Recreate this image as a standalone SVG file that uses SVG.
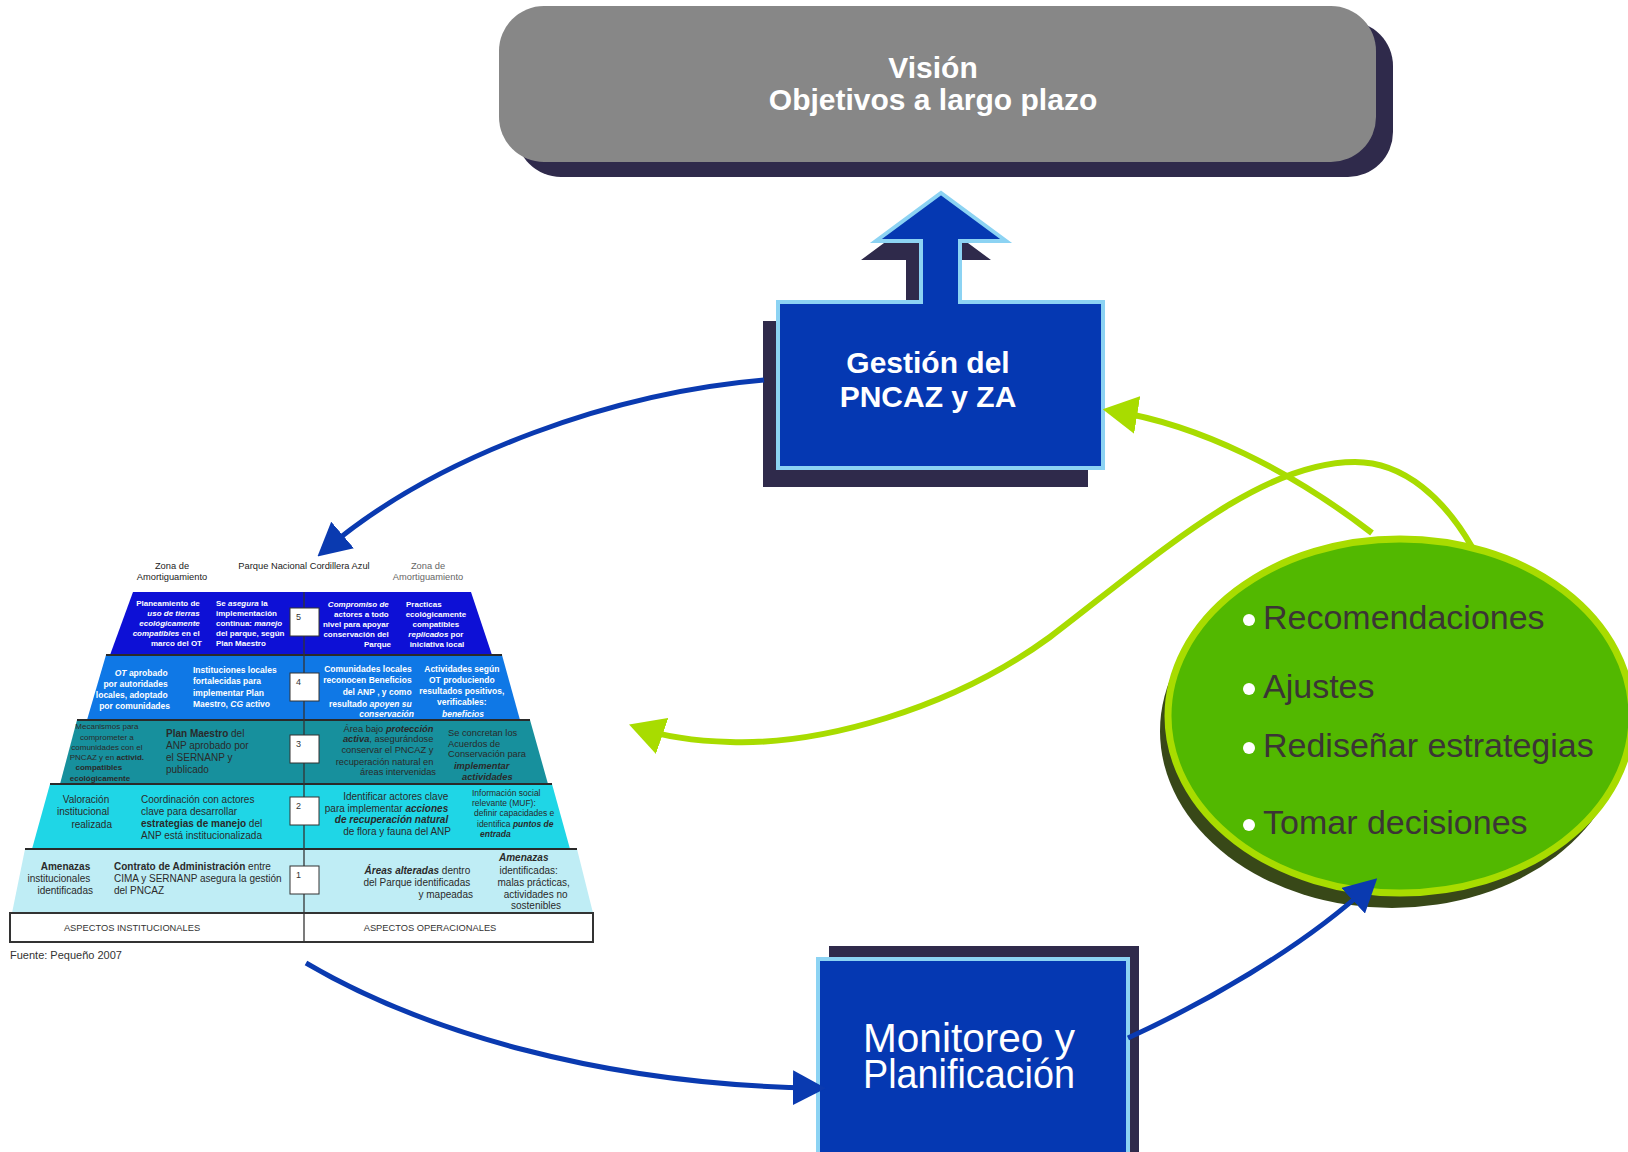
<svg xmlns="http://www.w3.org/2000/svg" width="1628" height="1152" viewBox="0 0 1628 1152">
<style>
.sf{font-family:'Liberation Sans',Arial,sans-serif}
.big{font-family:'Liberation Sans',Arial,sans-serif;font-weight:bold;font-size:30px;fill:#fff;text-anchor:middle}
.mon{font-family:'Liberation Sans',Arial,sans-serif;font-size:41px;fill:#fff;text-anchor:middle}
.ell{font-family:'Liberation Sans',Arial,sans-serif;font-size:34px;fill:#3b3535}
.hd{font-family:'Liberation Sans',Arial,sans-serif;font-size:9.3px;fill:#222;text-anchor:middle}
.w8{font-family:'Liberation Sans',Arial,sans-serif;font-weight:bold;font-size:8px;fill:#fff}
.w85{font-family:'Liberation Sans',Arial,sans-serif;font-weight:bold;font-size:8.5px;fill:#fff}
.d8{font-family:'Liberation Sans',Arial,sans-serif;font-size:8px;fill:#2a2a2a}
.d85{font-family:'Liberation Sans',Arial,sans-serif;font-size:8.5px;fill:#2a2a2a}
.d9{font-family:'Liberation Sans',Arial,sans-serif;font-size:9.3px;fill:#2a2a2a}
.d10{font-family:'Liberation Sans',Arial,sans-serif;font-size:10px;fill:#2a2a2a}
.bi{font-weight:bold;font-style:italic}
.b{font-weight:bold}
.i{font-style:italic}
.num{font-family:'Liberation Sans',Arial,sans-serif;font-size:9px;fill:#333}
.box{fill:#fff;stroke:#333;stroke-width:1}
.bl{fill:none;stroke:#0a3ab0;stroke-width:5}
.gr{fill:none;stroke:#a8dc00;stroke-width:6}
.sep{stroke:#2a2a2a;stroke-width:2}
</style>
<defs>
<marker id="ab" viewBox="0 0 10 10" refX="7" refY="5" markerWidth="33" markerHeight="35" markerUnits="userSpaceOnUse" orient="auto" preserveAspectRatio="none">
<path d="M0,0 L10,5 L0,10 Z" fill="#0a3ab0"/>
</marker>
<marker id="ag" viewBox="0 0 10 10" refX="7" refY="5" markerWidth="35" markerHeight="38" markerUnits="userSpaceOnUse" orient="auto" preserveAspectRatio="none">
<path d="M0,0 L10,5 L0,10 Z" fill="#a8dc00"/>
</marker>
</defs>
<rect width="1628" height="1152" fill="#fff"/>

<g id="vision">
<rect x="516" y="21" width="877" height="156" rx="45" fill="#2f2a4b"/>
<rect x="499" y="6" width="877" height="156" rx="45" fill="#878787"/>
<text class="big" x="933" y="78">Visión</text>
<text class="big" x="933" y="110">Objetivos a largo plazo</text>
</g>

<g id="gestion">
<path transform="translate(-15,19)" d="M778,302 H921 V241 H876 L941,193 L1006,241 H960 V302 H1103 V468 H778 Z" fill="#2f2a4b"/>
<path d="M778,302 H921 V241 H876 L941,193 L1006,241 H960 V302 H1103 V468 H778 Z" fill="#0538b2" stroke="#8cd3f3" stroke-width="4"/>
<text class="big" x="928" y="373">Gestión del</text>
<text class="big" x="928" y="407">PNCAZ y ZA</text>
</g>

<g id="monitoreo">
<rect x="829" y="946" width="310" height="220" fill="#2f2a4b"/>
<rect x="818" y="959" width="310" height="210" fill="#0538b2" stroke="#8cd3f3" stroke-width="4"/>
<text class="mon" x="969" y="1052" textLength="212" lengthAdjust="spacingAndGlyphs">Monitoreo y</text>
<text class="mon" x="969" y="1088" textLength="212" lengthAdjust="spacingAndGlyphs">Planificación</text>
</g>

<g id="acciones">
<ellipse cx="1392" cy="731" rx="232" ry="177" fill="#384818"/>
<ellipse cx="1400" cy="716" rx="232" ry="177" fill="#52b800" stroke="#a8dc00" stroke-width="7"/>
<circle cx="1249" cy="620" r="6" fill="#fff"/>
<circle cx="1249" cy="689" r="6" fill="#fff"/>
<circle cx="1249" cy="748" r="6" fill="#fff"/>
<circle cx="1249" cy="825" r="6" fill="#fff"/>
<text class="ell" x="1263" y="629">Recomendaciones</text>
<text class="ell" x="1263" y="698">Ajustes</text>
<text class="ell" x="1263" y="757">Rediseñar estrategias</text>
<text class="ell" x="1263" y="834">Tomar decisiones</text>
</g>

<g id="connectors">
<path class="bl" d="M764,380 C620,392 440,452 325,550" marker-end="url(#ab)"/>
<path class="bl" d="M306,963 C420,1030 600,1085 816,1088" marker-end="url(#ab)"/>
<path class="bl" d="M1128,1038 C1200,1005 1300,950 1370,885" marker-end="url(#ab)"/>
<path class="gr" d="M1372,533 C1290,470 1200,425 1113,411" marker-end="url(#ag)"/>
<path class="gr" d="M1472,547 C1445,500 1405,462 1355,462 C1260,462 1160,553 1050,637 C950,710 820,745 730,742 C695,741 665,737 639,728" marker-end="url(#ag)"/>
</g>

<g id="piramide">
<text class="hd" x="172" y="569">Zona de</text>
<text class="hd" x="172" y="580">Amortiguamiento</text>
<text class="hd" x="304" y="569">Parque Nacional Cordillera Azul</text>
<text class="hd" x="428" y="569" style="fill:#666">Zona de</text>
<text class="hd" x="428" y="580" style="fill:#666">Amortiguamiento</text>

<polygon points="133,592 471,592 492,655 110,655" fill="#0d10d6"/>
<polygon points="106,655 502,655 520,720 87,720" fill="#0f78e6"/>
<polygon points="77,720 530,720 548,784 60,784" fill="#17909d"/>
<polygon points="50,784 552,784 570,849 32,849" fill="#1fd6e6"/>
<polygon points="25,849 577,849 593,913 12,913" fill="#bfedf5"/>
<line class="sep" x1="106" y1="655" x2="502" y2="655"/>
<line class="sep" x1="77" y1="720" x2="530" y2="720"/>
<line class="sep" x1="50" y1="784" x2="552" y2="784"/>
<line class="sep" x1="25" y1="849" x2="577" y2="849"/>
<rect x="10" y="913" width="583" height="29" fill="#fff" stroke="#333" stroke-width="2"/>
<line x1="304" y1="592" x2="304" y2="942" stroke="#333" stroke-width="1.3"/>

<rect class="box" x="290" y="608" width="29" height="28"/><text class="num" x="296" y="620">5</text>
<rect class="box" x="290" y="673" width="29" height="28"/><text class="num" x="296" y="685">4</text>
<rect class="box" x="290" y="735" width="29" height="28"/><text class="num" x="296" y="747">3</text>
<rect class="box" x="290" y="797" width="29" height="28"/><text class="num" x="296" y="809">2</text>
<rect class="box" x="290" y="866" width="29" height="28"/><text class="num" x="296" y="878">1</text>

<text class="w8" text-anchor="end">
<tspan x="202" y="606">Planeamiento de</tspan>
<tspan x="202" y="616" class="i">uso de tierras</tspan>
<tspan x="202" y="626" class="i">ecológicamente</tspan>
<tspan x="202" y="636"><tspan class="i">compatibles</tspan> en el</tspan>
<tspan x="202" y="646">marco del OT</tspan>
</text>
<text class="w8">
<tspan x="216" y="606">Se <tspan class="i">asegura</tspan> la</tspan>
<tspan x="216" y="616">implementación</tspan>
<tspan x="216" y="626">continua: <tspan class="i">manejo</tspan></tspan>
<tspan x="216" y="636">del parque, según</tspan>
<tspan x="216" y="646">Plan Maestro</tspan>
</text>
<text class="w8" text-anchor="end">
<tspan x="391" y="607" class="i">Compromiso de</tspan>
<tspan x="391" y="617">actores a todo</tspan>
<tspan x="391" y="627">nivel para apoyar</tspan>
<tspan x="391" y="637">conservación del</tspan>
<tspan x="391" y="647">Parque</tspan>
</text>
<text class="w8" x="406" y="607">Practicas</text>
<text class="w8" text-anchor="middle">
<tspan x="437" y="617">ecológicamente</tspan>
<tspan x="437" y="627">compatibles</tspan>
<tspan x="437" y="637"><tspan class="i">replicados</tspan> por</tspan>
<tspan x="437" y="647">iniciativa local</tspan>
</text>

<text class="w85" text-anchor="end">
<tspan x="170" y="676"><tspan class="i">OT</tspan> aprobado</tspan>
<tspan x="170" y="687">por  autoridades</tspan>
<tspan x="170" y="698">locales, adoptado</tspan>
<tspan x="170" y="709">por comunidades</tspan>
</text>
<text class="w85">
<tspan x="193" y="673">Instituciones locales</tspan>
<tspan x="193" y="684">fortalecidas para</tspan>
<tspan x="193" y="696">implementar Plan</tspan>
<tspan x="193" y="707">Maestro, <tspan class="i">CG</tspan> activo</tspan>
</text>
<text class="w85" text-anchor="end">
<tspan x="414" y="672">Comunidades locales</tspan>
<tspan x="414" y="683">reconocen Beneficios</tspan>
<tspan x="414" y="695">del ANP , y como</tspan>
<tspan x="414" y="707">resultado <tspan class="i">apoyen su</tspan></tspan>
<tspan x="414" y="717" class="i">conservación</tspan>
</text>
<text class="w85" text-anchor="middle">
<tspan x="463" y="672">Actividades según</tspan>
<tspan x="463" y="683">OT produciendo</tspan>
<tspan x="463" y="694">resultados positivos,</tspan>
<tspan x="463" y="705">verificables:</tspan>
<tspan x="463" y="717" class="i">beneficios</tspan>
</text>

<text class="d8" text-anchor="middle">
<tspan x="108" y="729">Mecanismos para</tspan>
<tspan x="108" y="740">comprometer a</tspan>
<tspan x="108" y="750">comunidades con el</tspan>
<tspan x="108" y="760">PNCAZ y en <tspan class="b">activid.</tspan></tspan>
<tspan x="100" y="770" class="b">compatibles</tspan>
<tspan x="100" y="781" class="b">ecológicamente</tspan>
</text>
<text class="d10">
<tspan x="166" y="737"><tspan class="b">Plan Maestro</tspan> del</tspan>
<tspan x="166" y="749">ANP aprobado por</tspan>
<tspan x="166" y="761">el SERNANP y</tspan>
<tspan x="166" y="773">publicado</tspan>
</text>
<text class="d9" text-anchor="end">
<tspan x="436" y="732">Área bajo <tspan class="bi">protección</tspan></tspan>
<tspan x="436" y="742"><tspan class="bi">activa</tspan>, asegurándose</tspan>
<tspan x="436" y="753">conservar el PNCAZ y</tspan>
<tspan x="436" y="765">recuperación natural en</tspan>
<tspan x="436" y="775">áreas intervenidas</tspan>
</text>
<text class="d9">
<tspan x="448" y="736">Se concretan los</tspan>
<tspan x="448" y="747">Acuerdos de</tspan>
<tspan x="448" y="757">Conservación para</tspan>
<tspan x="454" y="769" class="bi">implementar</tspan>
<tspan x="462" y="780" class="bi">actividades</tspan>
</text>

<text class="d10" text-anchor="end">
<tspan x="112" y="803">Valoración</tspan>
<tspan x="112" y="815">institucional</tspan>
<tspan x="112" y="828">realizada</tspan>
</text>
<text class="d10">
<tspan x="141" y="803">Coordinación con actores</tspan>
<tspan x="141" y="815">clave para desarrollar</tspan>
<tspan x="141" y="827"><tspan class="b">estrategias de manejo</tspan> del</tspan>
<tspan x="141" y="839">ANP está institucionalizada</tspan>
</text>
<text class="d10" text-anchor="end">
<tspan x="451" y="800">Identificar actores clave</tspan>
<tspan x="451" y="812">para implementar <tspan class="bi">acciones</tspan></tspan>
<tspan x="451" y="823" class="bi">de recuperación natural</tspan>
<tspan x="451" y="835">de flora y fauna del ANP</tspan>
</text>
<text class="d85">
<tspan x="472" y="796">Información social</tspan>
<tspan x="472" y="806">relevante (MUF):</tspan>
<tspan x="474" y="816">definir capacidades e</tspan>
<tspan x="477" y="827">identifica <tspan class="bi">puntos de</tspan></tspan>
<tspan x="480" y="837" class="bi">entrada</tspan>
</text>

<text class="d10" text-anchor="end">
<tspan x="93" y="870" class="b">Amenazas</tspan>
<tspan x="93" y="882">institucionales</tspan>
<tspan x="93" y="894">identificadas</tspan>
</text>
<text class="d10">
<tspan x="114" y="870"><tspan class="b">Contrato de Administración</tspan> entre</tspan>
<tspan x="114" y="882">CIMA y SERNANP asegura la gestión</tspan>
<tspan x="114" y="894">del PNCAZ</tspan>
</text>
<text class="d10" text-anchor="end">
<tspan x="473" y="874"><tspan class="bi">Áreas alteradas</tspan> dentro</tspan>
<tspan x="473" y="886">del Parque identificadas</tspan>
<tspan x="473" y="898">y mapeadas</tspan>
</text>
<text class="d10" x="499" y="861"><tspan class="bi">Amenazas</tspan></text>
<text class="d10" text-anchor="middle">
<tspan x="530" y="874">identificadas:</tspan>
<tspan x="535" y="886">malas prácticas,</tspan>
<tspan x="537" y="898">actividades no</tspan>
<tspan x="536" y="909">sostenibles</tspan>
</text>

<text class="hd" x="132" y="931" style="fill:#333">ASPECTOS INSTITUCIONALES</text>
<text class="hd" x="430" y="931" style="fill:#333">ASPECTOS OPERACIONALES</text>
<text class="sf" x="10" y="959" font-size="11" fill="#333">Fuente: Pequeño 2007</text>
</g>
</svg>
